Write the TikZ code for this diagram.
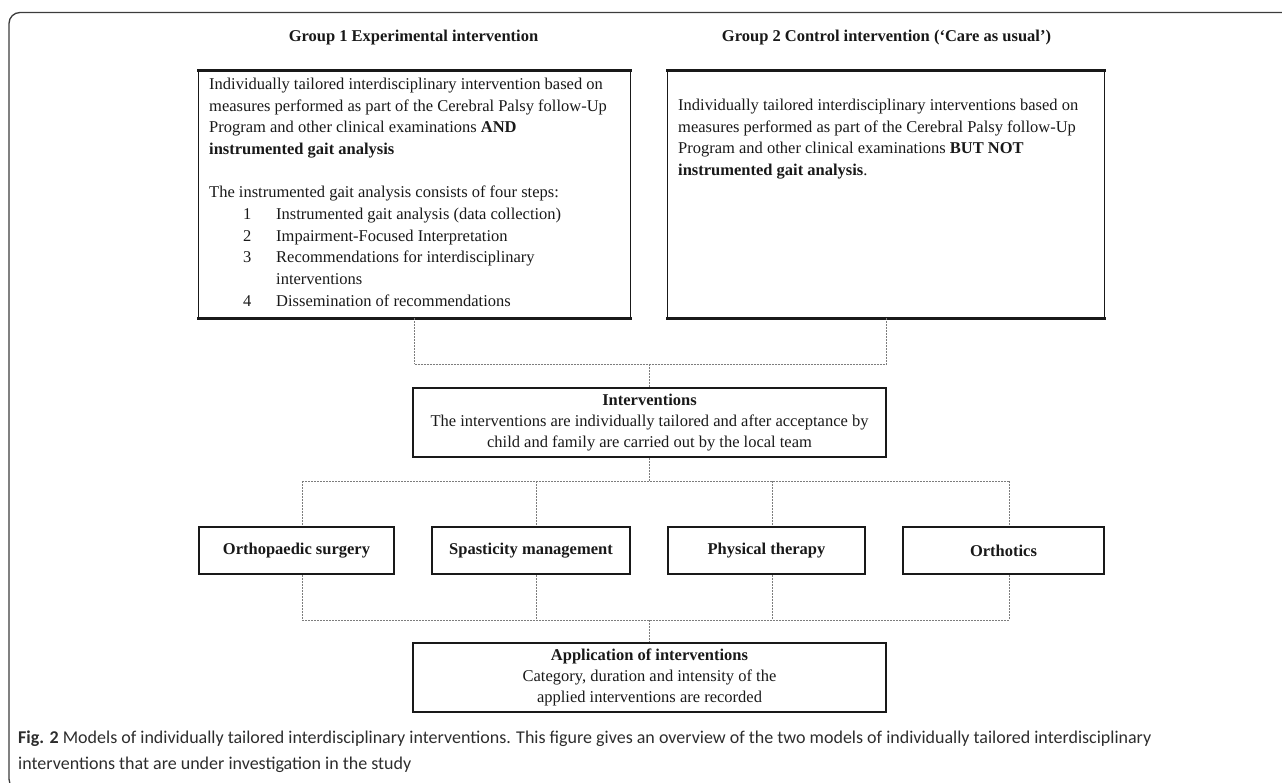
\documentclass[tikz,border=0pt]{standalone}
\usepackage{fontspec}
\setmainfont{Liberation Serif}
\newfontfamily\capfont{Carlito}
\definecolor{dashc}{RGB}{125,125,125}
\definecolor{framec}{RGB}{60,60,60}
\definecolor{boxc}{RGB}{25,25,25}
\definecolor{capc}{RGB}{45,45,45}
\begin{document}
\begin{tikzpicture}[x=1pt,y=-1pt,
  txt/.style={inner sep=0pt, font=\fontsize{16.5}{21.9}\selectfont, text=black!90},
  ttl/.style={inner sep=0pt, font=\fontsize{16.5}{21.9}\selectfont\bfseries, text=black!90},
  gbox/.style={inner sep=0pt, draw=none, minimum height=247pt},
  thickside/.style={draw=boxc, line width=2.7pt, line cap=rect},
  thinside/.style={draw=boxc, line width=0.9pt},
  tbox/.style={draw=boxc, line width=2.7pt, inner sep=0pt, align=center,
    minimum width=473pt, minimum height=69pt, font=\fontsize{16.5}{21}\selectfont, text=black!90},
  sbox/.style={draw=boxc, line width=2.7pt, inner sep=0pt, minimum height=47pt,
    font=\fontsize{16.5}{21}\selectfont\bfseries, text=black!90},
  conn/.style={draw=dashc, line width=0.8pt, dash pattern=on 2pt off 1pt},
  frame/.style={draw=framec, line width=1.3pt, rounded corners=11pt}
]
\useasboundingbox (0,0) rectangle (1282,783);

% outer frame
\draw[frame] (1300,12.5) -- (9,12.5) -- (9,790) -- (1300,790);

% titles
\node[ttl, anchor=base] (t1) at (413.5,41.5) {Group 1 Experimental intervention};
\node[ttl, anchor=base] (t2) at (886.5,41.5) {Group 2 Control intervention (`Care as usual')};

% group boxes
\node[gbox, minimum width=431pt] (g1) at (414.5,194.5) {};
\node[gbox, minimum width=436pt] (g2) at (886,194.5) {};
\foreach \b in {g1,g2}{
  \draw[thinside] (\b.north west) -- (\b.south west);
  \draw[thinside] (\b.north east) -- (\b.south east);
  \draw[thickside] (\b.north west) -- (\b.north east);
  \draw[thickside] (\b.south west) -- (\b.south east);
}

\node[txt, anchor=north west, align=left] (g1t) at (209,77.5) {%
Individually tailored interdisciplinary intervention based on\\
measures performed as part of the Cerebral Palsy follow-Up\\
Program and other clinical examinations \textbf{AND}\\
\textbf{instrumented gait analysis}\\[20.5pt]
The instrumented gait analysis consists of four steps:\\
\hspace*{34pt}\makebox[33pt][l]{1}Instrumented gait analysis (data collection)\\
\hspace*{34pt}\makebox[33pt][l]{2}Impairment-Focused Interpretation\\
\hspace*{34pt}\makebox[33pt][l]{3}Recommendations for interdisciplinary\\
\hspace*{67pt}interventions\\
\hspace*{34pt}\makebox[33pt][l]{4}Dissemination of recommendations};

\node[txt, anchor=north west, align=left] (g2t) at (678,98.5) {%
Individually tailored interdisciplinary interventions based on\\
measures performed as part of the Cerebral Palsy follow-Up\\
Program and other clinical examinations \textbf{BUT NOT}\\
\textbf{instrumented gait analysis}.};

% interventions
\node[tbox] (iv) at (649.5,422.5) {\textbf{Interventions}\\
The interventions are individually tailored and after acceptance by\\
child and family are carried out by the local team};

% four boxes
\node[sbox, minimum width=195pt] (b1) at (296.5,550.5) {Orthopaedic surgery};
\node[sbox, minimum width=198pt] (b2) at (531,550.5) {Spasticity management};
\node[sbox, minimum width=197pt] (b3) at (766.5,550.5) {Physical therapy};
\node[sbox, minimum width=201pt] (b4) at (1003.5,550.5) {Orthotics};

% application
\node[tbox] (app) at (649.5,677.5) {\textbf{Application of interventions}\\
Category, duration and intensity of the\\
applied interventions are recorded};

% connectors top
\coordinate (jt) at (649.5,364);
\draw[conn] (g1.south) -- (g1.south |- jt);
\draw[conn] (g2.south) -- (g2.south |- jt);
\draw[conn] (g1.south |- jt) -- (g2.south |- jt);
\draw[conn] (jt) -- (iv.north);

% connectors middle
\coordinate (jm) at (649.5,481);
\draw[conn] (iv.south) -- (jm);
\draw[conn] ([xshift=5.5pt]b1.north |- jm) -- ([xshift=5.5pt]b4.north |- jm);
\foreach \b in {b1,b2,b3,b4}{
  \draw[conn] ([xshift=5.5pt]\b.north |- jm) -- ([xshift=5.5pt]\b.north);
}

% connectors bottom
\coordinate (jb) at (649.5,620);
\draw[conn] ([xshift=5.5pt]b1.south |- jb) -- ([xshift=5.5pt]b4.south |- jb);
\foreach \b in {b1,b2,b3,b4}{
  \draw[conn] ([xshift=5.5pt]\b.south) -- ([xshift=5.5pt]\b.south |- jb);
}
\draw[conn] (jb) -- (app.north);

% caption
\node[anchor=north west, inner sep=0pt, align=left, text=capc,
  font=\capfont\fontsize{18}{26}\selectfont] (cap) at (18,731) {%
\textbf{Fig. 2} Models of individually tailored interdisciplinary interventions. This figure gives an overview of the two models of individually tailored interdisciplinary\\
interventions that are under investigation in the study};
\end{tikzpicture}
\end{document}
